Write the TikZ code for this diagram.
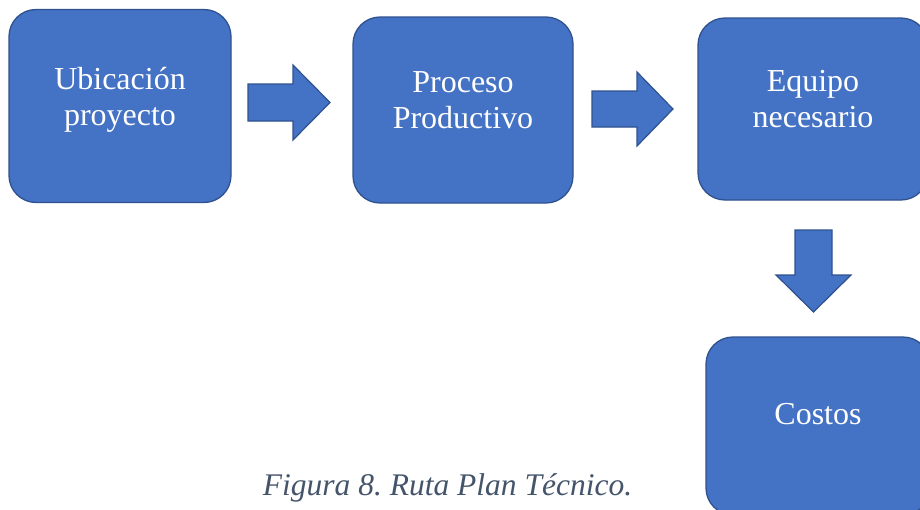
\documentclass[tikz,border=0pt]{standalone}
\usepackage{fontspec}
\setmainfont{Liberation Serif}
\definecolor{boxfill}{HTML}{4472C4}
\definecolor{boxline}{HTML}{2F528F}
\definecolor{captxt}{HTML}{44546A}
\begin{document}
\begin{tikzpicture}[x=1pt,y=-1pt,
  stepbox/.style={draw=boxline, fill=boxfill, line width=1.3pt,
    rounded corners=27pt, text=white, align=center, inner sep=0pt,
    text depth=20pt, font=\fontsize{32}{36}\selectfont},
  blockarrow/.style={draw=boxline, fill=boxfill, line width=1.2pt, line join=miter},
  captionstyle/.style={text=captxt, inner sep=0pt, anchor=base,
    font=\fontsize{31.5}{36}\selectfont\itshape\frenchspacing}]
\useasboundingbox (0,0) rectangle (920,509);
\clip (0,0) rectangle (920,509);

% process boxes
\node[stepbox, minimum width=222pt, minimum height=193pt] (ubic) at (120,106) {Ubicación\\proyecto};
\node[stepbox, minimum width=220pt, minimum height=186pt] (proc) at (463,110) {Proceso\\Productivo};
\node[stepbox, minimum width=230pt, minimum height=182pt] (equi) at (813,109) {Equipo\\necesario};
\node[stepbox, text depth=24pt, minimum width=224pt, minimum height=178pt] (cost) at (818,426) {Costos};

% block arrows between the boxes
\coordinate (a1tail) at (248,102.5);
\coordinate (a1tip) at (330,102.5);
\draw[blockarrow] (a1tail) ++(0,-18.5) -- ++(45,0) -- ++(0,-19) -- (a1tip)
  -- ++(-37,37.5) -- ++(0,-19) -- ++(-45,0) -- cycle;

\coordinate (a2tail) at (592,109);
\coordinate (a2tip) at (673,109);
\draw[blockarrow] (a2tail) ++(0,-18) -- ++(45,0) -- ++(0,-19) -- (a2tip)
  -- ++(-36,37) -- ++(0,-19) -- ++(-45,0) -- cycle;

\coordinate (a3tail) at (813.5,230);
\coordinate (a3tip) at (813.5,312);
\draw[blockarrow] (a3tail) ++(-18.5,0) -- ++(0,45) -- ++(-19,0) -- (a3tip)
  -- ++(37.5,-37) -- ++(-19,0) -- ++(0,-45) -- cycle;

% caption
\node[captionstyle] (cap) at (447.5,495) {Figura 8. Ruta Plan Técnico.};
\end{tikzpicture}
\end{document}
